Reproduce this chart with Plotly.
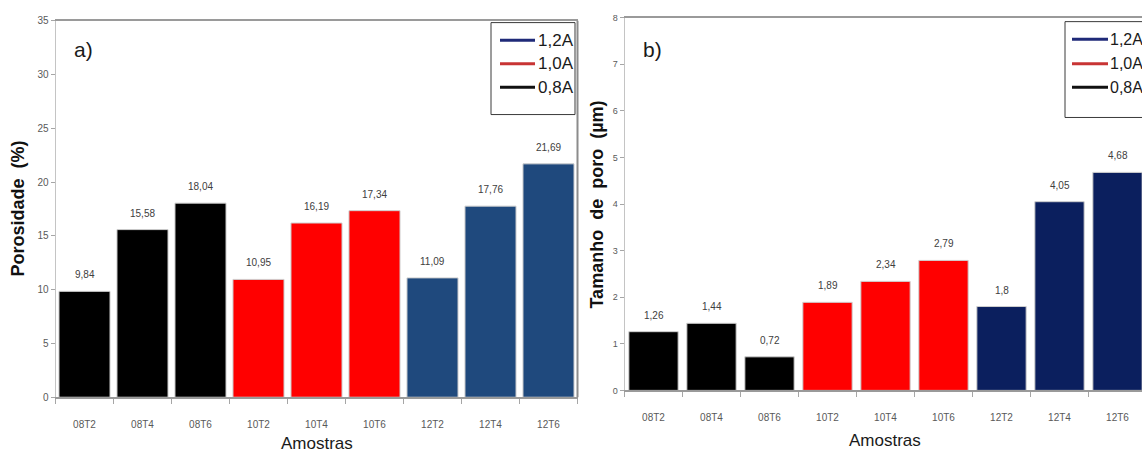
import plotly.graph_objects as go

# ---------------- data ----------------
samples = ["08T2", "08T4", "08T6", "10T2", "10T4", "10T6", "12T2", "12T4", "12T6"]
porosity = [9.84, 15.58, 18.04, 10.95, 16.19, 17.34, 11.09, 17.76, 21.69]
pore_size = [1.26, 1.44, 0.72, 1.89, 2.34, 2.79, 1.8, 4.05, 4.68]
current = ["0,8A", "0,8A", "0,8A", "1,0A", "1,0A", "1,0A", "1,2A", "1,2A", "1,2A"]
legend_labels = ["1,2A", "1,0A", "0,8A"]
y_ticks_a = [0, 5, 10, 15, 20, 25, 30, 35]
y_ticks_b = [0, 1, 2, 3, 4, 5, 6, 7, 8]

# ---------------- styles ----------------
W, H = 1142, 457
colors_a = {"0,8A": "#000000", "1,0A": "#ff0000", "1,2A": "#1f497d"}
colors_b = {"0,8A": "#000000", "1,0A": "#ff0000", "1,2A": "#0b1f5e"}
legend_line_colors = {"1,2A": "#1f2a78", "1,0A": "#c83434", "0,8A": "#111111"}
FONT = "Liberation Sans, Arial, sans-serif"
NB = "\u00a0"


def px(x):
    return x / W


def py(y):
    return 1 - y / H


def fmt(v):
    return str(v).replace(".", ",")


fig = go.Figure()

fig.add_trace(go.Bar(
    x=samples, y=porosity, width=0.88,
    marker=dict(color=[colors_a[c] for c in current], line=dict(color="#cfcfcf", width=1)),
    xaxis="x", yaxis="y", showlegend=False,
))
fig.add_trace(go.Bar(
    x=samples, y=pore_size, width=0.85,
    marker=dict(color=[colors_b[c] for c in current], line=dict(color="#cfcfcf", width=1)),
    xaxis="x2", yaxis="y2", showlegend=False,
))

annotations = []
for s, v in zip(samples, porosity):
    annotations.append(dict(x=s, y=v, xref="x", yref="y", text=fmt(v), showarrow=False,
                            xanchor="center", yanchor="bottom", yshift=9,
                            font=dict(size=10, color="#404040", family=FONT)))
for s, v in zip(samples, pore_size):
    annotations.append(dict(x=s, y=v, xref="x2", yref="y2", text=fmt(v), showarrow=False,
                            xanchor="center", yanchor="bottom", yshift=9,
                            font=dict(size=10, color="#404040", family=FONT)))


def paper_text(x, y, text, size, color="#1a1a1a", angle=0, xanchor="center"):
    return dict(x=px(x), y=py(y), xref="paper", yref="paper", text=text, showarrow=False,
                xanchor=xanchor, yanchor="middle", textangle=angle,
                font=dict(size=size, color=color, family=FONT))


# panel labels
annotations.append(paper_text(83, 46, "a)", 21))
annotations.append(paper_text(652, 46, "b)", 21))

# axis titles
annotations.append(paper_text(18, 208, "<b>Porosidade" + NB * 2 + "(%)</b>", 18, "#111111", -90))
annotations.append(paper_text(597, 204, "<b>Tamanho" + NB * 2 + "de" + NB * 2 + "poro" + NB * 2 + "(µm)</b>",
                              18, "#111111", -90))
annotations.append(paper_text(317, 448, "Amostras", 17))
annotations.append(paper_text(885, 445, "Amostras", 17))

shapes = []
# right border of panel a
shapes.append(dict(type="line", xref="paper", yref="paper", x0=px(577.5), x1=px(577.5), y0=py(401), y1=py(16),
                   line=dict(color="#8c8c8c", width=2)))

# legends (drawn as keys)
legend_specs = [
    dict(box=(491, 18, 575, 112), rows=[36, 60, 84], line=(500, 535), text_x=536, size=17),
    dict(box=(1065, 17, 1160, 115), rows=[35, 60, 84], line=(1072, 1108), text_x=1108, size=16),
]
for spec in legend_specs:
    bx0, by0, bx1, by1 = spec["box"]
    shapes.append(dict(type="rect", xref="paper", yref="paper", x0=px(bx0), x1=px(bx1), y0=py(by1), y1=py(by0),
                       line=dict(color="#3a3a3a", width=1), fillcolor="white", layer="above"))
    for lab, ry in zip(legend_labels, spec["rows"]):
        shapes.append(dict(type="line", xref="paper", yref="paper", x0=px(spec["line"][0]), x1=px(spec["line"][1]),
                           y0=py(ry), y1=py(ry), line=dict(color=legend_line_colors[lab], width=3), layer="above"))
        annotations.append(dict(x=px(spec["text_x"]), y=py(ry), xref="paper", yref="paper", text=lab,
                                xanchor="left", yanchor="middle", showarrow=False,
                                font=dict(size=spec["size"], color="#1a1a1a",
                                          family="Liberation Sans Narrow, Arial Narrow, " + FONT)))

xcommon = dict(type="category", tickson="boundaries", ticks="outside", ticklen=5, tickcolor="#a6a6a6",
               tickfont=dict(size=10, color="#595959", family=FONT), showgrid=False, zeroline=False,
               showline=True, linecolor="#9a9a9a", linewidth=2, mirror=True, ticklabelstandoff=17,
               fixedrange=True)
ycommon = dict(ticks="outside", ticklen=4, tickcolor="#a6a6a6", showgrid=False, zeroline=False,
               showline=True, linecolor="#c4c4c4", linewidth=1, fixedrange=True)

fig.update_layout(
    width=W, height=H,
    margin=dict(l=0, r=0, t=0, b=0),
    paper_bgcolor="white", plot_bgcolor="white",
    showlegend=False,
    xaxis=dict(xcommon, domain=[px(55.5), px(577.5)], range=[-0.5, 8.5], anchor="y"),
    yaxis=dict(ycommon, domain=[py(401), py(16)], range=[0, 35], tickvals=y_ticks_a,
               tickfont=dict(size=10, color="#595959", family=FONT), anchor="x"),
    xaxis2=dict(xcommon, domain=[px(624.5), 1.0], range=[-0.5, -0.5 + (W - 624.5) / 58.0], anchor="y2"),
    yaxis2=dict(ycommon, domain=[py(394), py(13)], range=[0, 8], tickvals=y_ticks_b,
                tickfont=dict(size=9, color="#595959", family=FONT), anchor="x2"),
    annotations=annotations,
    shapes=shapes,
)

fig.write_html("out.html", config={"displayModeBar": False},
               post_script="document.body.style.margin='0';document.body.style.overflow='hidden';")
